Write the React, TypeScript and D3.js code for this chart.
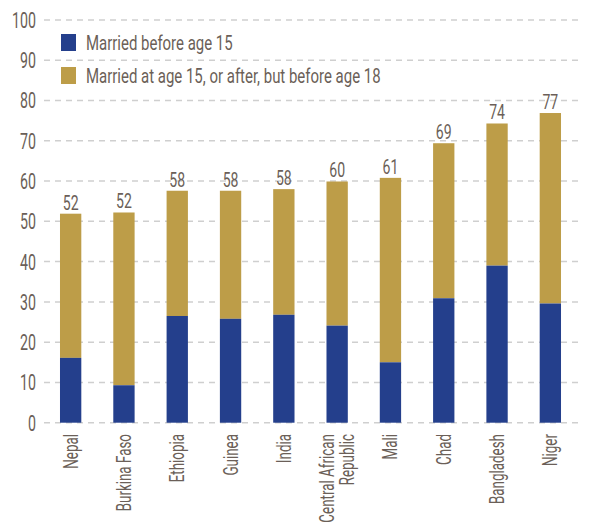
import React from "react";
import * as d3 from "d3";

const countries: string[][] = [
  ["Nepal"],
  ["Burkina Faso"],
  ["Ethiopia"],
  ["Guinea"],
  ["India"],
  ["Central African", "Republic"],
  ["Mali"],
  ["Chad"],
  ["Bangladesh"],
  ["Niger"],
];
const before15 = [16.1, 9.3, 26.5, 25.8, 26.8, 24.1, 15.0, 30.9, 39.0, 29.6];
const totals = [51.9, 52.2, 57.6, 57.6, 58.0, 59.9, 60.8, 69.4, 74.3, 76.9];
const totalLabels = ["52", "52", "58", "58", "58", "60", "61", "69", "74", "77"];
const yTicks = [0, 10, 20, 30, 40, 50, 60, 70, 80, 90, 100];
const legendLabels = [
  "Married before age 15",
  "Married at age 15, or after, but before age 18",
];

const W = 590;
const H = 523;
const BLUE = "#243f8c";
const GOLD = "#bd9d48";
const TEXT = "#6b5f58";
const FONT = "Roboto, 'Open Sans', sans-serif";

function CText(props: {
  x: number;
  y: number;
  children: React.ReactNode;
  anchor?: string;
  size?: number;
  sx?: number;
  rotate?: number;
  dy?: string;
}) {
  const { x, y, children, anchor = "start", size = 19, sx = 0.7, rotate = 0, dy } = props;
  return (
    <text
      transform={`translate(${x},${y}) rotate(${rotate}) scale(${sx},1)`}
      textAnchor={anchor}
      fontSize={size}
      fontFamily={FONT}
      fill={TEXT}
      dy={dy}
    >
      {children}
    </text>
  );
}

export default function App() {
  const y = d3.scaleLinear().domain([0, 100]).range([422.7, 20]);
  const x = d3
    .scaleBand<number>()
    .domain(d3.range(countries.length))
    .range([44, 577])
    .paddingInner(0.6)
    .paddingOuter(0.3);
  const bw = x.bandwidth();

  return (
    <svg
      width={W}
      height={H}
      style={{ position: "absolute", left: 0, top: 0, background: "#fff" }}
    >
      {yTicks.map((t) => (
        <g key={t}>
          <line
            x1={44}
            x2={578}
            y1={y(t)}
            y2={y(t)}
            stroke="#cfcfcf"
            strokeWidth={1.5}
            strokeDasharray="6,5"
          />
          <CText x={36} y={y(t)} anchor="end" size={22} sx={0.645} dy="0.36em">
            {t}
          </CText>
        </g>
      ))}

      {countries.map((c, i) => {
        const x0 = x(i)!;
        const cx = x0 + bw / 2;
        return (
          <g key={i}>
            <rect
              x={x0}
              width={bw}
              y={y(totals[i])}
              height={y(before15[i]) - y(totals[i])}
              fill={GOLD}
            />
            <rect
              x={x0}
              width={bw}
              y={y(before15[i])}
              height={y(0) - y(before15[i])}
              fill={BLUE}
            />
            <CText x={cx} y={y(totals[i]) - 4} anchor="middle" size={21} sx={0.67}>
              {totalLabels[i]}
            </CText>
            {c.map((line, j) => (
              <CText
                key={j}
                x={cx + (j - (c.length - 1) / 2) * 20}
                y={434}
                anchor="end"
                size={20}
                sx={0.67}
                rotate={-90}
                dy="0.35em"
              >
                {line}
              </CText>
            ))}
          </g>
        );
      })}

      {legendLabels.map((l, i) => (
        <g key={i}>
          <rect
            x={61}
            y={34 + i * 33}
            width={15}
            height={17}
            fill={i === 0 ? BLUE : GOLD}
          />
          <CText x={86} y={42.5 + i * 33} size={21} sx={0.713} dy="0.36em">
            {l}
          </CText>
        </g>
      ))}
    </svg>
  );
}
